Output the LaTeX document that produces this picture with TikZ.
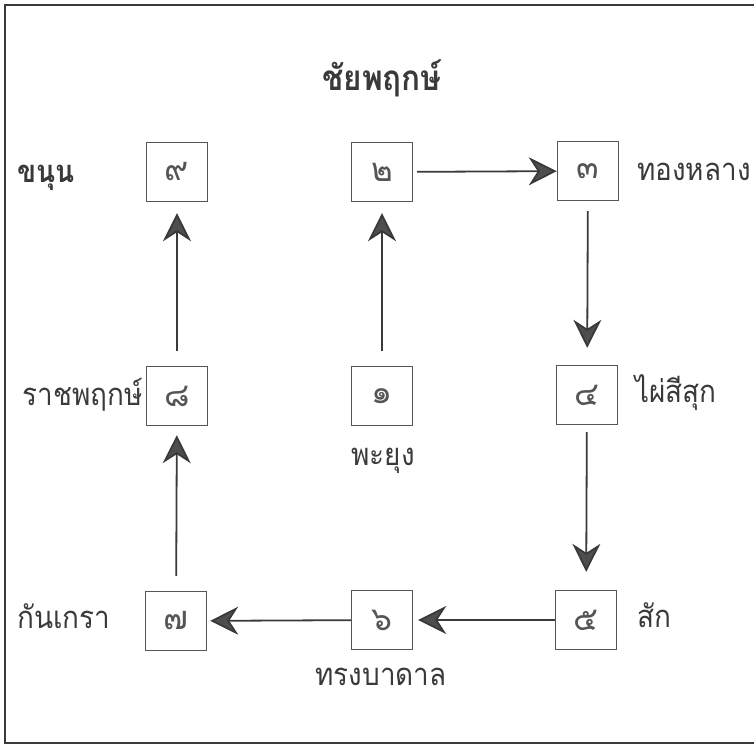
\documentclass[tikz,border=0pt]{standalone}
\usepackage{fontspec}
\newfontfamily\thai[Script=Thai, FakeStretch=0.9]{Loma}
\newfontfamily\thaidigit[Script=Thai]{Loma}
\usetikzlibrary{arrows.meta}
\definecolor{ink}{HTML}{3A3A3A}
\definecolor{boxline}{HTML}{555555}
\tikzset{
  treebox/.style={draw=boxline, line width=1.4pt, minimum width=61pt, minimum height=59pt,
    inner sep=0pt, text=boxline, font=\thaidigit\fontsize{33}{33}\selectfont},
  treename/.style={text=ink, inner sep=0pt, font=\thai\fontsize{31}{31}\selectfont},
  flow/.style={draw=ink, line width=1.8pt,
    -{Stealth[length=28pt, width=28pt, inset=9pt, fill=ink!90]}},
}
\begin{document}
\begin{tikzpicture}[x=1pt, y=-1pt]
\useasboundingbox (0,0) rectangle (754,745);
\fill[white] (0,0) rectangle (754,745);
% frame, right side runs off the page
\draw[ink, line width=2.4pt] (5,5) rectangle (770,743);
% title
\node[treename, anchor=base, font=\thai\bfseries\fontsize{35}{35}\selectfont] (title) at (382,90) {ชัยพฤกษ์};
% boxes
\node[treebox] (b9) at (177,172) {๙};
\node[treebox] (b2) at (382,172) {๒};
\node[treebox] (b3) at (588,171) {๓};
\node[treebox] (b8) at (177,396) {๘};
\node[treebox] (b1) at (382,396) {๑};
\node[treebox] (b4) at (587,395) {๔};
\node[treebox] (b7) at (176,621) {๗};
\node[treebox] (b6) at (382,620) {๖};
\node[treebox] (b5) at (586,620) {๕};
% names
\node[treename, anchor=base west, font=\thai\bfseries\fontsize{31}{31}\selectfont] (n9) at (17,182) {ขนุน};
\node[treename, anchor=base west] (n3) at (637,180) {ทองหลาง};
\node[treename, anchor=base east] (n8) at (143,405) {ราชพฤกษ์};
\node[treename, anchor=base west] (n4) at (635,402) {ไผ่สีสุก};
\node[treename, anchor=base] (n1) at (383,465) {พะยุง};
\node[treename, anchor=base west] (n7) at (17,628) {กันเกรา};
\node[treename, anchor=base west] (n5) at (637,627) {สัก};
\node[treename, anchor=base] (n6) at (381,685) {ทรงบาดาล};
% order of the walk
\draw[flow, shorten <=15pt, shorten >=11pt] (b1) -- (b2);
\draw[flow, shorten <=4pt] (b2) -- (b3);
\draw[flow, shorten <=10pt, shorten >=17pt] (b3) -- (b4);
\draw[flow, shorten <=7pt, shorten >=18pt] (b4) -- (b5);
\draw[flow, shorten >=5pt] (b5) -- (b6);
\draw[flow, shorten >=3pt] (b6) -- (b7);
\draw[flow, shorten <=15pt, shorten >=9pt] (b7) -- (b8);
\draw[flow, shorten <=15pt, shorten >=11pt] (b8) -- (b9);
\end{tikzpicture}
\end{document}
